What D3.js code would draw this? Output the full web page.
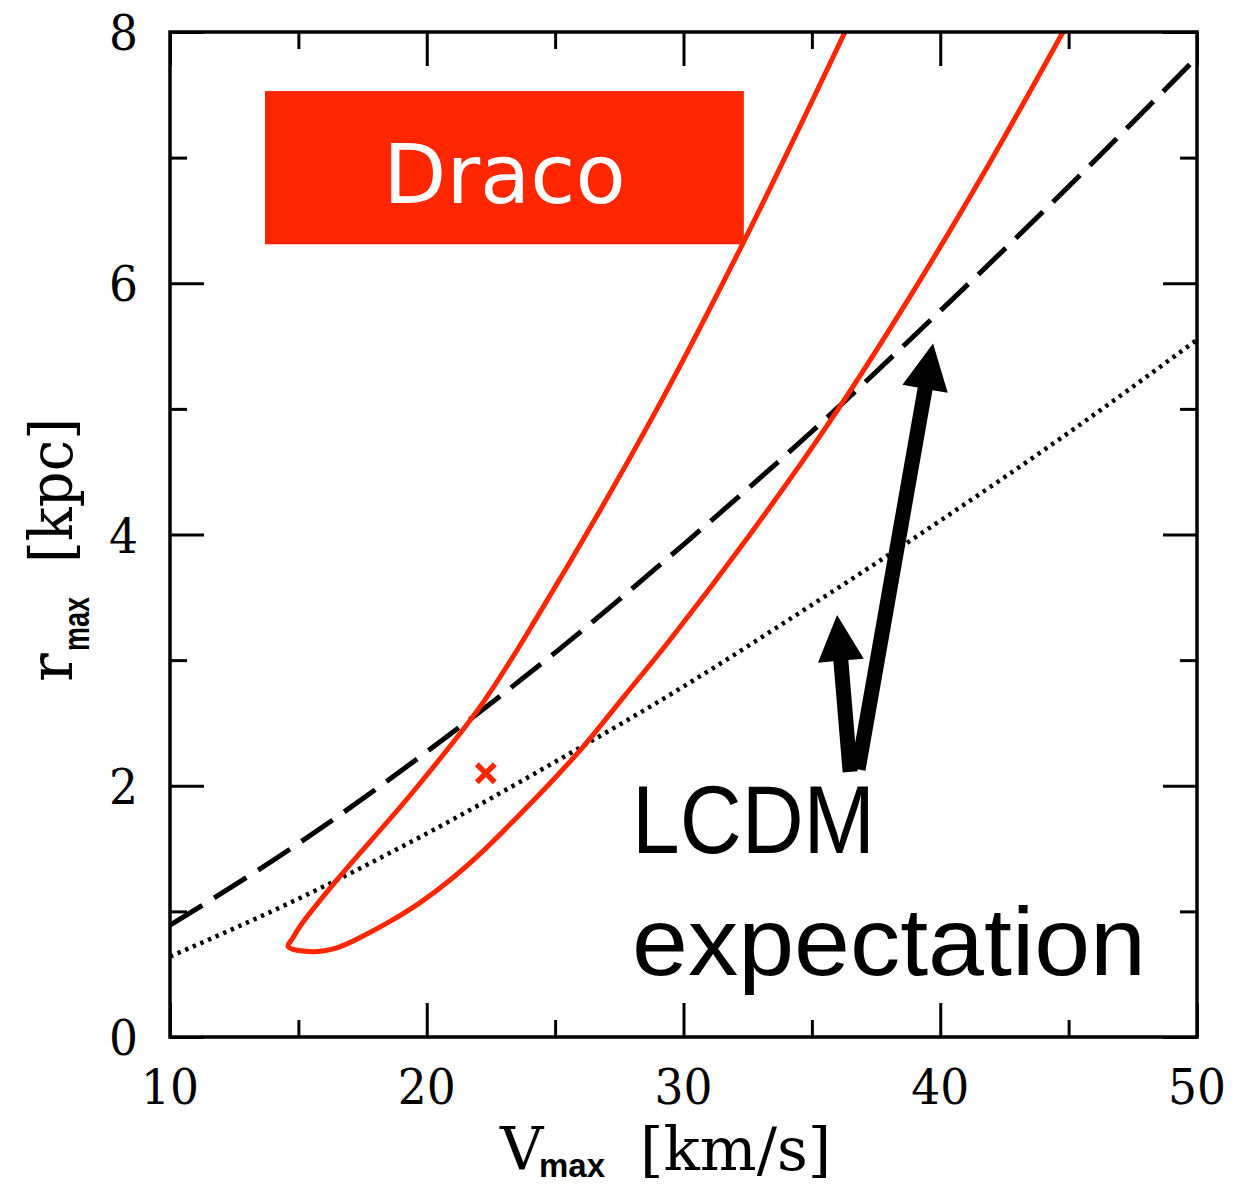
<!DOCTYPE html>
<html>
<head>
<meta charset="utf-8">
<script src="https://cdn.jsdelivr.net/npm/d3@7"></script>
<style>
  html, body { margin: 0; padding: 0; background: #fff; }
  svg { display: block; }
</style>
</head>
<body>
<svg id="chart" width="1236" height="1185"></svg>
<script>
// Axis ticks
const vmaxMajor = [10, 20, 30, 40, 50];
const vmaxMinor = [15, 25, 35, 45];
const rmaxMajor = [0, 2, 4, 6, 8];
const rmaxMinor = [1, 3, 5, 7];

// LCDM r_max–V_max relations (dashed: mean, dotted: lower)
const lcdmV    = [10, 15, 20, 25, 30, 35, 40, 45, 50];
const lcdmMean = [0.89, 1.54, 2.27, 3.06, 3.92, 4.82, 5.78, 6.77, 7.80];
const lcdmLow  = [0.64, 1.10, 1.62, 2.19, 2.79, 3.44, 4.11, 4.81, 5.55];

// Draco likelihood contour (open at the top of the frame):
// upper-left branch down to the tip, then the lower-right branch back up
const contourV = [36.29, 32.32, 28.81, 24.29, 22.15, 19.46, 16.50, 15.06, 14.79, 14.60,
                  15.45, 16.50, 17.48, 18.57, 19.74, 20.91, 22.19, 23.52, 24.80, 26.09,
                  27.72, 29.47, 32.59, 35.67, 38.78, 41.90, 44.78];
const contourR = [8.00, 6.32, 4.94, 3.34, 2.65, 1.95, 1.25, 0.88, 0.79, 0.72,
                  0.68, 0.71, 0.80, 0.92, 1.07, 1.25, 1.48, 1.75, 2.02, 2.31,
                  2.72, 3.16, 4.00, 4.89, 5.88, 6.95, 8.00];

// Best-fit point
const bestV = [22.3];
const bestR = [2.10];

const svg = d3.select("#chart");
const W = 1236, H = 1185;
svg.append("rect").attr("width", W).attr("height", H).attr("fill", "#fff");

const x = d3.scaleLinear().domain([10, 50]).range([170, 1197]);
const y = d3.scaleLinear().domain([0, 8]).range([1037, 32]);

const RED = "#ff2600";

svg.append("defs").append("clipPath").attr("id", "plot-clip")
  .append("rect")
  .attr("x", x(10)).attr("y", y(8))
  .attr("width", x(50) - x(10)).attr("height", y(0) - y(8));

const plot = svg.append("g").attr("clip-path", "url(#plot-clip)");

const relLine = d3.line().x(d => x(d[0])).y(d => y(d[1])).curve(d3.curveMonotoneX);

// LCDM relations
plot.append("path")
  .datum(lcdmV.map((v, i) => [v, lcdmLow[i]]))
  .attr("d", relLine)
  .attr("fill", "none").attr("stroke", "#000")
  .attr("stroke-width", 4.5).attr("stroke-dasharray", "3.4,4.9");

plot.append("path")
  .datum(lcdmV.map((v, i) => [v, lcdmMean[i]]))
  .attr("d", relLine)
  .attr("fill", "none").attr("stroke", "#000")
  .attr("stroke-width", 5).attr("stroke-dasharray", "38,14");

// Draco contour
plot.append("path")
  .datum(contourV.map((v, i) => [v, contourR[i]]))
  .attr("d", d3.line().x(d => x(d[0])).y(d => y(d[1])).curve(d3.curveCatmullRom.alpha(0.5)))
  .attr("fill", "none").attr("stroke", RED)
  .attr("stroke-width", 5).attr("stroke-linejoin", "round");

// Best-fit cross
const cross = svg.append("g");
bestV.forEach((v, i) => {
  const cx = x(v), cy = y(bestR[i]), s = 9;
  cross.append("path")
    .attr("d", `M${cx - s},${cy - s}L${cx + s},${cy + s}M${cx - s},${cy + s}L${cx + s},${cy - s}`)
    .attr("stroke", RED).attr("stroke-width", 5.5).attr("fill", "none");
});

// Frame and ticks on all four sides
function tickAxis(axisFn, scale, values, size, transform) {
  const g = svg.append("g").attr("transform", transform)
    .call(axisFn(scale).tickValues(values).tickSize(-size).tickSizeOuter(0).tickFormat(""));
  g.select(".domain").remove();
  g.selectAll(".tick line").attr("stroke", "#000").attr("stroke-width", 3);
  return g;
}
tickAxis(d3.axisBottom, x, vmaxMajor, 34, `translate(0,${y(0)})`);
tickAxis(d3.axisBottom, x, vmaxMinor, 17, `translate(0,${y(0)})`);
tickAxis(d3.axisTop, x, vmaxMajor, 34, `translate(0,${y(8)})`);
tickAxis(d3.axisTop, x, vmaxMinor, 17, `translate(0,${y(8)})`);
tickAxis(d3.axisLeft, y, rmaxMajor, 34, `translate(${x(10)},0)`);
tickAxis(d3.axisLeft, y, rmaxMinor, 17, `translate(${x(10)},0)`);
tickAxis(d3.axisRight, y, rmaxMajor, 34, `translate(${x(50)},0)`);
tickAxis(d3.axisRight, y, rmaxMinor, 17, `translate(${x(50)},0)`);

svg.append("rect")
  .attr("x", x(10)).attr("y", y(8))
  .attr("width", x(50) - x(10)).attr("height", y(0) - y(8))
  .attr("fill", "none").attr("stroke", "#000").attr("stroke-width", 3.5);

// Tick labels
const tickFont = "'DejaVu Serif', serif";
svg.append("g").selectAll("text").data(vmaxMajor).join("text")
  .attr("x", d => x(d)).attr("y", 1104)
  .attr("text-anchor", "middle")
  .attr("font-family", tickFont).attr("font-size", 48)
  .attr("textLength", 58).attr("lengthAdjust", "spacingAndGlyphs")
  .text(d => d);
svg.append("g").selectAll("text").data(rmaxMajor).join("text")
  .attr("x", 138).attr("y", d => y(d) + 18)
  .attr("text-anchor", "end")
  .attr("font-family", tickFont).attr("font-size", 48)
  .attr("textLength", 29).attr("lengthAdjust", "spacingAndGlyphs")
  .text(d => d);

// Axis titles
const titleFont = "'DejaVu Serif', serif";
const subFont = "'Liberation Sans', Arial, sans-serif";
svg.append("text").attr("x", 500).attr("y", 1170)
  .attr("font-family", titleFont).attr("font-size", 60).text("V");
svg.append("text").attr("x", 539).attr("y", 1177)
  .attr("font-family", subFont).attr("font-weight", "bold").attr("font-size", 34)
  .attr("textLength", 66).attr("lengthAdjust", "spacingAndGlyphs").text("max");
svg.append("text").attr("x", 640).attr("y", 1170)
  .attr("font-family", titleFont).attr("font-size", 60).text("[km/s]");

const yt = svg.append("g").attr("transform", "rotate(-90)");
yt.append("text").attr("x", -682).attr("y", 72)
  .attr("font-family", titleFont).attr("font-size", 60).text("r");
yt.append("text").attr("x", -651).attr("y", 89)
  .attr("font-family", subFont).attr("font-weight", "bold").attr("font-size", 36)
  .attr("textLength", 54).attr("lengthAdjust", "spacingAndGlyphs").text("max");
yt.append("text").attr("x", -563).attr("y", 72)
  .attr("font-family", titleFont).attr("font-size", 60)
  .attr("textLength", 145).attr("lengthAdjust", "spacingAndGlyphs").text("[kpc]");

// Galaxy label box
const boxV = [13.7, 32.35], boxR = [6.31, 7.53];
svg.append("rect")
  .attr("x", x(boxV[0])).attr("y", y(boxR[1]))
  .attr("width", x(boxV[1]) - x(boxV[0])).attr("height", y(boxR[0]) - y(boxR[1]))
  .attr("fill", RED);
svg.append("text")
  .attr("x", (x(boxV[0]) + x(boxV[1])) / 2).attr("y", 203)
  .attr("text-anchor", "middle")
  .attr("font-family", "'Comic Sans MS', 'DejaVu Sans', sans-serif")
  .attr("font-size", 82).attr("fill", "#fff")
  .text("Draco");

// Arrows pointing to the LCDM relations
const arrows = [
  { from: [36.80, 2.13], to: [39.72, 5.52] },
  { from: [36.49, 2.11], to: [35.98, 3.36] }
];
function arrowPolygon(a) {
  const x0 = x(a.from[0]), y0 = y(a.from[1]);
  const x1 = x(a.to[0]), y1 = y(a.to[1]);
  const len = Math.hypot(x1 - x0, y1 - y0);
  const ux = (x1 - x0) / len, uy = (y1 - y0) / len;
  const nx = -uy, ny = ux;
  const sw = 7.5, hw = 23, hl = 46;
  const bx = x1 - ux * hl, by = y1 - uy * hl;
  const pts = [
    [x0 + nx * sw, y0 + ny * sw],
    [bx + nx * sw, by + ny * sw],
    [bx + nx * hw, by + ny * hw],
    [x1, y1],
    [bx - nx * hw, by - ny * hw],
    [bx - nx * sw, by - ny * sw],
    [x0 - nx * sw, y0 - ny * sw]
  ];
  return "M" + pts.map(p => p.join(",")).join("L") + "Z";
}
svg.append("g").selectAll("path").data(arrows).join("path")
  .attr("d", arrowPolygon).attr("fill", "#000");

// Annotation text
const noteFont = "'Liberation Sans', Arial, sans-serif";
svg.append("text").attr("x", 632).attr("y", 853)
  .attr("font-family", noteFont).attr("font-size", 96)
  .attr("textLength", 243).attr("lengthAdjust", "spacingAndGlyphs")
  .text("LCDM");
svg.append("text").attr("x", 632).attr("y", 975)
  .attr("font-family", noteFont).attr("font-size", 96)
  .attr("textLength", 514).attr("lengthAdjust", "spacingAndGlyphs")
  .text("expectation");
</script>
</body>
</html>
